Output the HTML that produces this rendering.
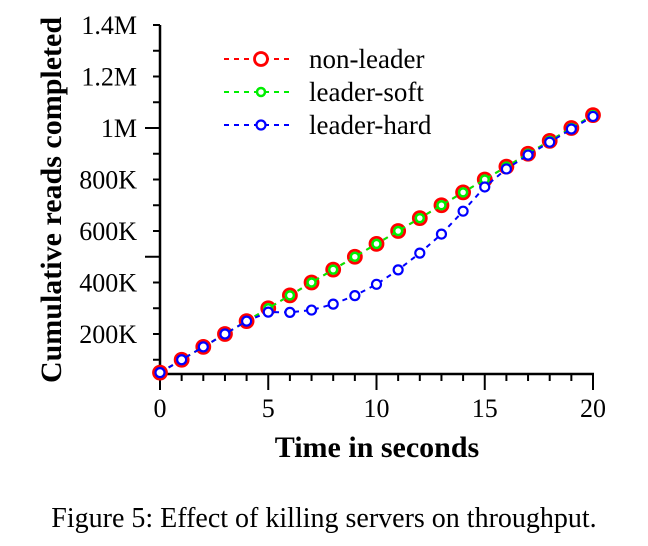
<!DOCTYPE html>
<html><head><meta charset="utf-8"><style>
body{margin:0;background:#fff;}
svg text{font-family:"Liberation Serif",serif;}
</style></head><body>
<svg id="chart" width="648" height="541" xmlns="http://www.w3.org/2000/svg">
<g id="axes"></g><g id="plot"></g><g id="legend"></g>
<text transform="translate(61,200) rotate(-90)" text-anchor="middle" font-size="30" font-weight="bold">Cumulative reads completed</text>
<text x="377" y="457" text-anchor="middle" font-size="30" font-weight="bold">Time in seconds</text>
<text x="324" y="527" text-anchor="middle" font-size="28">Figure 5: Effect of killing servers on throughput.</text>
</svg>
<script>
const times=[0,1,2,3,4,5,6,7,8,9,10,11,12,13,14,15,16,17,18,19,20];
const nonLeader=[50,100,150,200,250,300,350,400,450,500,550,600,650,700,750,800,850,900,950,1000,1050];
const leaderSoft=[50,100,150,200,250,300,350,400,450,500,550,600,650,700,750,800,850,900,950,1000,1050];
const leaderHard=[50,100,150,200,250,285,284,293,316,349,393,449,514,588,677,771,841,895,945,996,1045];
const yTicks=[200,400,600,800,1000,1200,1400];
const yLabels=["200K","400K","600K","800K","1M","1.2M","1.4M"];
const xTicks=[0,5,10,15,20];
const NS="http://www.w3.org/2000/svg";
const X=t=>160+t*(593-160)/20;
const Y=v=>25+(1400-v)*0.2575;
function mk(p,tag,a){const e=document.createElementNS(NS,tag);for(const k in a)e.setAttribute(k,a[k]);p.appendChild(e);return e;}
const ax=document.getElementById('axes');
const yl=mk(ax,'line',{x1:160,y1:Y(1400),x2:160,y2:374,stroke:'#000','stroke-width':2.5});


const xl=mk(ax,'line',{x1:159,y1:374,x2:594,y2:374,stroke:'#000','stroke-width':2.5});


for(let v=100;v<=1400;v+=100){const major=v%500===0;mk(ax,'line',{x1:major?145:153,y1:Y(v),x2:160,y2:Y(v),stroke:'#000','stroke-width':2});}
yTicks.forEach((v,i)=>{const t=mk(ax,'text',{x:137,y:Y(v)+9,'text-anchor':'end','font-size':26});t.textContent=yLabels[i];

});
for(let s=0;s<=20;s++){const major=s%5===0;mk(ax,'line',{x1:X(s),y1:374,x2:X(s),y2:major?390:381,stroke:'#000','stroke-width':2});}
xTicks.forEach(s=>{const t=mk(ax,'text',{x:X(s),y:417,'text-anchor':'middle','font-size':26});t.textContent=s;

});
const plot=document.getElementById('plot');
const series=[
 {name:'non-leader',vals:nonLeader,color:'#f00',r:6.5,w:2.8},
 {name:'leader-soft',vals:leaderSoft,color:'#0e0',r:4,w:2.5},
 {name:'leader-hard',vals:leaderHard,color:'#00f',r:4.5,w:2.2}];
series.forEach(s=>{
 const g=mk(plot,'g',{});
 
 
 mk(g,'polyline',{points:times.map((t,i)=>X(t)+','+Y(s.vals[i])).join(' '),fill:'none',stroke:s.color,'stroke-width':2,'stroke-dasharray':'5,5'});
 times.forEach((t,i)=>{const c=mk(g,'circle',{cx:X(t),cy:Y(s.vals[i]),r:s.r,fill:'#fff',stroke:s.color,'stroke-width':s.w});
 
 });
});
const lg=document.getElementById('legend');
series.forEach((s,i)=>{const y=59+i*33;
 const g=mk(lg,'g',{});
 
 
 mk(g,'line',{x1:224,y1:y,x2:293,y2:y,stroke:s.color,'stroke-width':2,'stroke-dasharray':'5,5'});
 mk(g,'circle',{cx:261,cy:y,r:s.r,fill:'#fff',stroke:s.color,'stroke-width':s.w});
 const t=mk(g,'text',{x:309,y:y+9,'font-size':27});t.textContent=s.name;});
</script>
</body></html>
